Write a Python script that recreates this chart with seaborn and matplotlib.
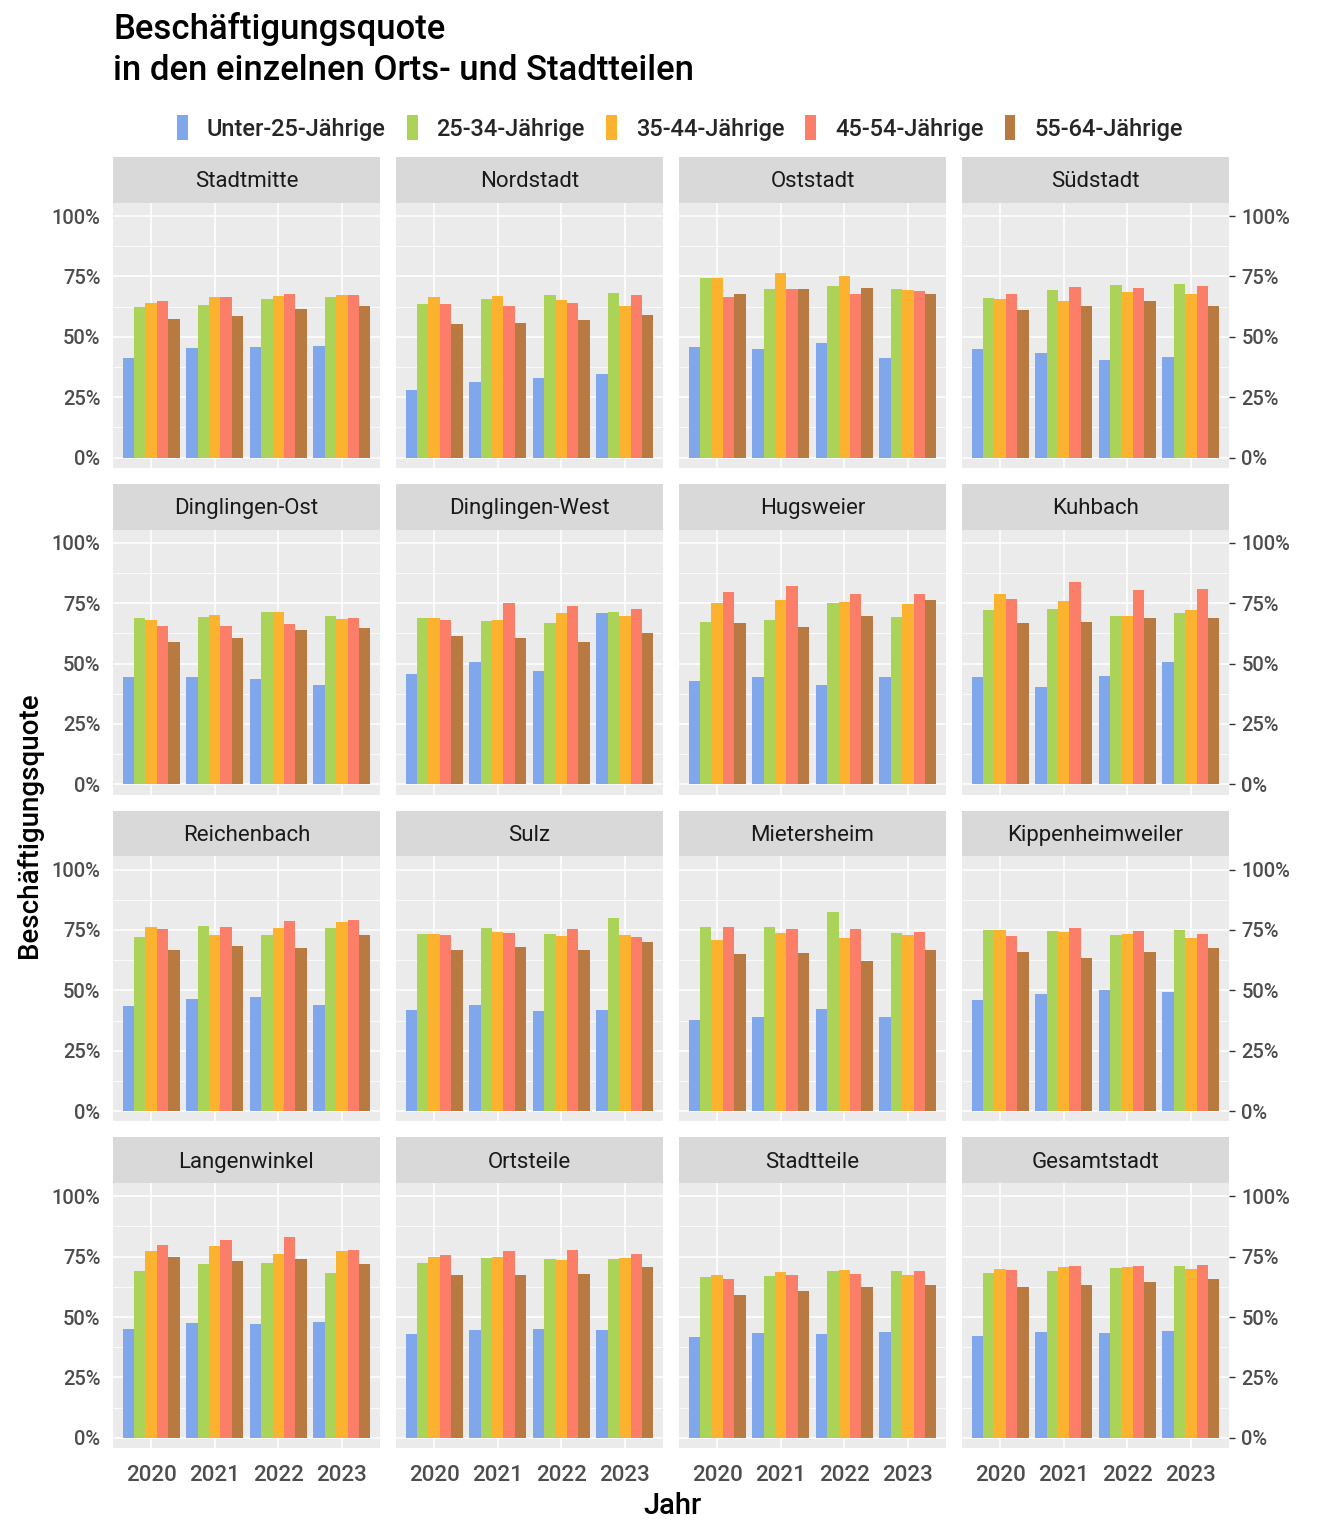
import numpy as np
import pandas as pd
import matplotlib
matplotlib.use('Agg')
import matplotlib.pyplot as plt
from matplotlib.patches import Patch, Rectangle
from matplotlib.ticker import FixedLocator
import seaborn as sns

# Data (percent), one row per district, columns = years
regions = ['Stadtmitte', 'Nordstadt', 'Oststadt', 'Südstadt',
           'Dinglingen-Ost', 'Dinglingen-West', 'Hugsweier', 'Kuhbach',
           'Reichenbach', 'Sulz', 'Mietersheim', 'Kippenheimweiler',
           'Langenwinkel', 'Ortsteile', 'Stadtteile', 'Gesamtstadt']
years = ['2020', '2021', '2022', '2023']
age_groups = ['Unter-25-Jährige', '25-34-Jährige', '35-44-Jährige',
              '45-54-Jährige', '55-64-Jährige']

unter_25 = [
    [41.2, 45.3, 45.7, 46.1], [28.0, 31.3, 32.9, 34.6], [45.7, 44.9, 47.4, 41.2], [44.9, 43.3, 40.4, 41.6],
    [44.5, 44.5, 43.7, 41.2], [45.7, 50.7, 47.0, 70.9], [42.8, 44.5, 41.2, 44.5], [44.5, 40.4, 44.9, 50.7],
    [43.7, 46.6, 47.4, 44.1], [42.0, 44.1, 41.6, 42.0], [37.9, 39.1, 42.4, 39.1], [46.1, 48.6, 50.3, 49.4],
    [45.1, 47.6, 47.2, 48.0], [43.0, 44.7, 45.1, 44.7], [41.8, 43.4, 43.0, 43.8], [42.2, 43.8, 43.4, 44.3],
]
j25_34 = [
    [62.3, 63.1, 65.6, 66.4], [63.5, 65.6, 67.2, 68.0], [74.2, 69.7, 70.9, 69.7], [66.0, 69.3, 71.3, 71.8],
    [68.9, 69.3, 71.3, 69.7], [68.9, 67.6, 66.8, 71.3], [67.2, 68.0, 75.1, 69.3], [72.2, 72.6, 69.7, 70.9],
    [72.2, 76.7, 73.0, 75.9], [73.4, 75.9, 73.4, 80.0], [76.3, 76.3, 82.5, 73.8], [75.1, 74.7, 73.0, 75.1],
    [69.2, 72.1, 72.5, 68.3], [72.5, 74.5, 74.1, 74.1], [66.7, 67.1, 69.2, 69.2], [68.3, 69.2, 70.4, 71.2],
]
j35_44 = [
    [63.9, 66.4, 66.8, 67.2], [66.4, 66.8, 65.2, 62.7], [74.2, 76.3, 75.1, 69.3], [65.6, 64.7, 68.5, 67.6],
    [68.0, 70.1, 71.3, 68.5], [68.9, 68.0, 70.9, 69.7], [75.1, 76.3, 75.5, 74.7], [78.8, 75.9, 69.7, 72.2],
    [76.3, 73.0, 75.9, 78.4], [73.4, 74.2, 72.6, 73.0], [70.9, 73.8, 71.8, 73.0], [75.1, 74.2, 73.4, 71.8],
    [77.5, 79.5, 76.2, 77.5], [75.0, 75.0, 73.7, 74.5], [67.5, 68.7, 69.6, 67.5], [70.0, 70.8, 70.8, 70.0],
]
j45_54 = [
    [64.7, 66.4, 67.6, 67.2], [63.5, 62.7, 63.9, 67.2], [66.4, 69.7, 67.6, 68.9], [67.6, 70.5, 70.1, 70.9],
    [65.6, 65.6, 66.4, 68.9], [68.0, 75.1, 73.8, 72.6], [79.6, 82.1, 78.8, 78.8], [76.7, 83.7, 80.4, 80.9],
    [75.5, 76.3, 78.8, 79.2], [73.0, 73.8, 75.5, 72.2], [76.3, 75.5, 75.5, 74.2], [72.6, 75.9, 74.7, 73.4],
    [79.9, 82.0, 83.3, 77.9], [75.8, 77.5, 77.9, 76.2], [65.8, 67.5, 67.9, 69.2], [69.6, 71.2, 71.2, 71.6],
]
j55_64 = [
    [57.3, 58.5, 61.4, 62.7], [55.2, 55.6, 56.9, 59.0], [67.6, 69.7, 70.1, 67.6], [61.0, 62.7, 64.7, 62.7],
    [59.0, 60.6, 63.9, 64.7], [61.4, 60.6, 59.0, 62.7], [66.8, 65.2, 69.7, 76.3], [66.8, 67.2, 68.9, 68.9],
    [66.8, 68.3, 67.6, 73.0], [66.8, 68.0, 66.8, 70.1], [65.2, 65.6, 62.3, 66.8], [66.0, 63.5, 66.0, 67.6],
    [75.0, 73.3, 74.1, 72.1], [67.5, 67.5, 67.9, 70.8], [59.2, 60.9, 62.5, 63.3], [62.5, 63.3, 64.6, 65.8],
]

colors = ['#80A6EC', '#AAD357', '#FBB32F', '#FB7E68', '#B97A42']

# Long format table
rows = []
for age, series in zip(age_groups, [unter_25, j25_34, j35_44, j45_54, j55_64]):
    for region, vals in zip(regions, series):
        for year, v in zip(years, vals):
            rows.append({'Ortsteil': region, 'Jahr': year, 'Alter': age, 'Quote': v})
df = pd.DataFrame(rows)

sns.set_theme(style='darkgrid')
plt.rcParams['font.family'] = ['Roboto', 'DejaVu Sans']
plt.rcParams['font.weight'] = 'medium'

W, H = 1344, 1536
fig, axes = plt.subplots(4, 4, figsize=(W / 100, H / 100), dpi=100)
fig.patch.set_facecolor('white')
fig.subplots_adjust(left=113 / W, right=1229 / W, top=1 - 203 / H, bottom=1 - 1448 / H,
                    wspace=16 / 267, hspace=62 / 265)

pct_labels = ['0%', '25%', '50%', '75%', '100%']
strip_h = 46 / 265
for i, (ax, region) in enumerate(zip(axes.flat, regions)):
    sub = df[df['Ortsteil'] == region]
    sns.barplot(data=sub, x='Jahr', y='Quote', hue='Alter', order=years, hue_order=age_groups,
                palette=colors, saturation=1, width=0.9, errorbar=None, legend=False, ax=ax,
                linewidth=0)
    ax.set_facecolor('#EBEBEB')
    ax.set_xlim(-0.6, 3.6)
    ax.set_ylim(-4.2, 105.4)
    ax.yaxis.set_major_locator(FixedLocator([0, 25, 50, 75, 100]))
    ax.yaxis.set_minor_locator(FixedLocator([12.5, 37.5, 62.5, 87.5]))
    ax.grid(which='major', color='white', linewidth=1.1)
    ax.grid(which='minor', axis='y', color='white', linewidth=0.55)
    ax.set_axisbelow(True)
    for s in ax.spines.values():
        s.set_visible(False)
    ax.set_xlabel('')
    ax.set_ylabel('')

    row, col = divmod(i, 4)
    ax.tick_params(axis='both', which='minor', length=0)
    if col == 0:
        ax.set_yticklabels(pct_labels)
        ax.tick_params(axis='y', length=4, width=1, color='#333333', labelcolor='#4D4D4D',
                       labelsize=14.5, pad=5)
    elif col == 3:
        ax.yaxis.tick_right()
        ax.set_yticklabels(pct_labels)
        ax.tick_params(axis='y', length=4, width=1, color='#333333', labelcolor='#4D4D4D',
                       labelsize=14.5, pad=5, left=False, right=True)
    else:
        ax.tick_params(axis='y', length=0, labelleft=False)
    if row == 3:
        ax.tick_params(axis='x', length=4, width=1, color='#333333', labelcolor='#4D4D4D',
                       labelsize=16, pad=8)
    else:
        ax.tick_params(axis='x', length=0, labelbottom=False)

    # facet strip
    ax.add_patch(Rectangle((0, 1), 1, strip_h, transform=ax.transAxes,
                           facecolor='#D9D9D9', edgecolor='none', clip_on=False))
    ax.text(0.5, 1 + strip_h / 2 - 0.007, region, transform=ax.transAxes, ha='center',
            va='center', fontsize=16, fontweight='normal', color='#1A1A1A')

fig.text(113 / W, 1 - 12 / H, 'Beschäftigungsquote\nin den einzelnen Orts- und Stadtteilen',
         ha='left', va='top', fontsize=25, color='black', linespacing=1.3)

handles = [Patch(facecolor=c, edgecolor='none', label=a) for c, a in zip(colors, age_groups)]
fig.legend(handles=handles, loc='center', bbox_to_anchor=(680 / W, 1 - 128 / H), ncol=5,
           frameon=False, fontsize=17, handlelength=0.45, handleheight=1.2,
           handletextpad=0.8, columnspacing=0.9)

fig.text(30 / W, 1 - 825 / H, 'Beschäftigungsquote', rotation=90, ha='center', va='center',
         fontsize=20, color='black')
fig.text(672 / W, 1 - 1506 / H, 'Jahr', ha='center', va='center', fontsize=21, color='black')

fig.savefig('out.png', dpi=100, facecolor='white')
